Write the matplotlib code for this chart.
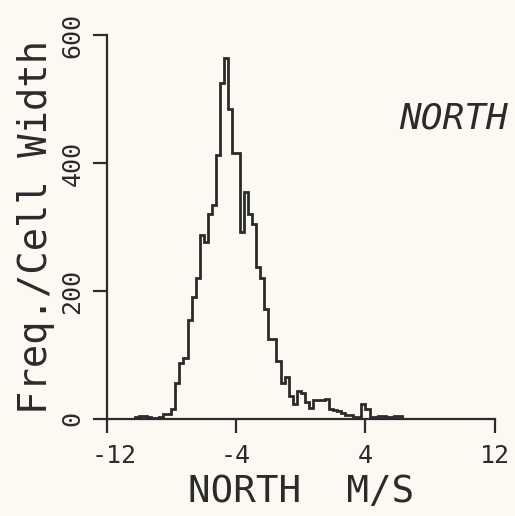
import numpy as np
import matplotlib
matplotlib.use("Agg")
import matplotlib.pyplot as plt
import matplotlib.transforms as mtransforms

# histogram of north velocity component, bins of 0.25 m/s
bin_start = -10.25
bin_width = 0.25
counts = [
    3, 4, 4, 3, 2, 2, 3, 8, 8, 15,
    57, 87, 96, 154, 190, 220, 287, 276, 321, 334,
    412, 525, 564, 485, 416, 416, 292, 355, 321, 305,
    238, 221, 172, 125, 125, 91, 57, 65, 36, 24,
    44, 40, 26, 17, 29, 29, 29, 31, 16, 14,
    13, 10, 6, 6, 3, 3, 23, 16, 3, 3,
    5, 5, 3, 3, 5, 5,
]
x_ticks = [-12, -4, 4, 12]
y_ticks = [0, 200, 400, 600]
x_label = "NORTH  M/S"
y_label = "Freq./Cell Width"
panel_title = "NORTH"

paper = "#fbf9f2"
ink = "#2b2b2b"

edges = bin_start + bin_width * np.arange(len(counts) + 1)

plt.rcParams["font.family"] = ["DejaVu Sans Mono"]

fig = plt.figure(figsize=(5.15, 5.16), dpi=100, facecolor=paper)
ax = fig.add_axes([0.207, 0.188, 0.754, 0.744])
ax.set_facecolor(paper)

ax.stairs(counts, edges, baseline=0, color=ink, linewidth=2.0)

ax.set_xlim(-12, 12)
ax.set_ylim(0, 600)
ax.set_xticks(x_ticks)
ax.set_yticks(y_ticks)
ax.set_xticklabels([str(t) for t in x_ticks], fontsize=18, color=ink)
ax.set_yticklabels([str(t) for t in y_ticks], fontsize=18, color=ink,
                   rotation=90, va="center")

for side in ["top", "right"]:
    ax.spines[side].set_visible(False)
for side in ["left", "bottom"]:
    ax.spines[side].set_color(ink)
    ax.spines[side].set_linewidth(1.6)
ax.tick_params(axis="both", direction="out", length=10, width=1.6,
               color=ink)
ax.tick_params(axis="x", pad=8)
ax.tick_params(axis="y", pad=6)

# the plotter nudged the leftmost label inward
first = ax.get_xticklabels()[0]
first.set_transform(first.get_transform() +
                    mtransforms.ScaledTranslation(0.08, 0, fig.dpi_scale_trans))

ax.set_xlabel(x_label, fontsize=27, color=ink, labelpad=4)
ax.set_ylabel(y_label, fontsize=28, color=ink, labelpad=4)

fig.text(0.775, 0.738, panel_title, fontsize=26, style="italic",
         color=ink, ha="left", va="bottom")

fig.savefig("out.png", dpi=100, facecolor=paper)
